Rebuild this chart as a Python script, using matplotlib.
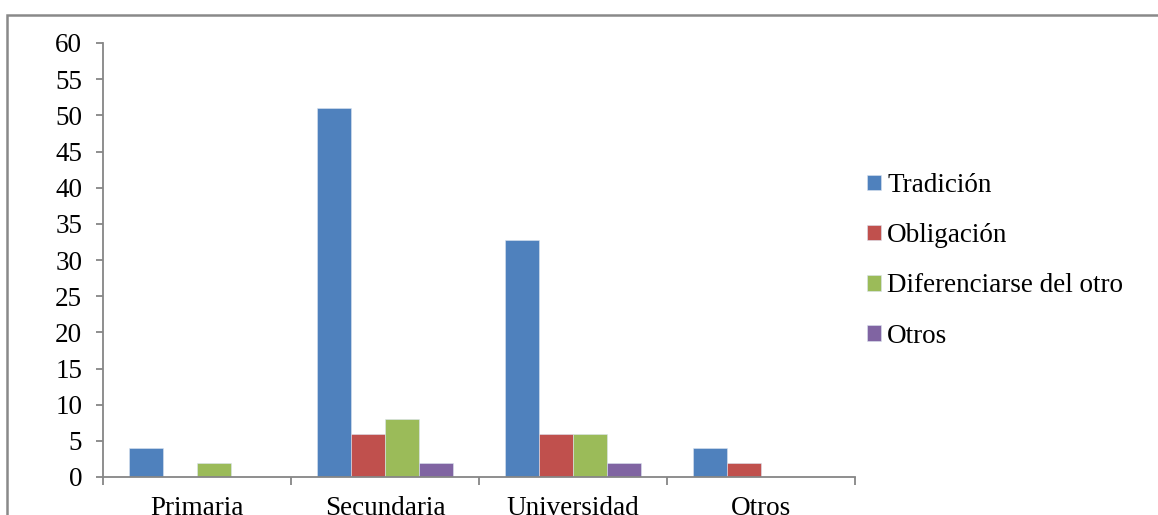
import matplotlib.pyplot as plt
import matplotlib.patches as patches
import numpy as np

plt.rcParams['font.family'] = ['Liberation Serif', 'DejaVu Serif']

categorias = ['Primaria', 'Secundaria', 'Universidad', 'Otros']
series = ['Tradición', 'Obligación', 'Diferenciarse del otro', 'Otros']
valores = {
    'Tradición': [4, 51, 32.7, 4],
    'Obligación': [0, 6, 6, 2],
    'Diferenciarse del otro': [2, 8, 6, 0],
    'Otros': [0, 2, 2, 0],
}
colores = ['#4F81BD', '#C0504D', '#9BBB59', '#8064A2']
grey = '#868686'
fs = 19.5

fig = plt.figure(figsize=(11.58, 5.15), dpi=100)
ax = fig.add_axes([103 / 1158, 1 - 477 / 515, 752 / 1158, 434 / 515])

# marco exterior del grafico
fig.patches.append(patches.Rectangle((7 / 1158, -0.1), 1.1, 1.1 - 15 / 515,
                                     transform=fig.transFigure, fill=False,
                                     edgecolor='#898989', linewidth=1.8))

x = np.arange(len(categorias))
w = 0.1808
for i, s in enumerate(series):
    ax.bar(x + (i - 1.5) * w, valores[s], width=w, color=colores[i],
           edgecolor='#dbe4f0', linewidth=0.4, label=s)

ax.set_xlim(-0.5, 3.5)
ax.set_ylim(0, 60)
ax.set_yticks(range(0, 61, 5))
ax.set_xticks(np.arange(-0.5, 4, 1))
ax.set_xticklabels([])
ax.set_xticks(x, minor=True)
ax.set_xticklabels(categorias, minor=True)

for s in ['top', 'right']:
    ax.spines[s].set_visible(False)
for s in ['left', 'bottom']:
    ax.spines[s].set_color(grey)
    ax.spines[s].set_linewidth(1.3)

ax.tick_params(axis='y', colors=grey, labelcolor='black', labelsize=fs,
               length=5, width=1.3, pad=10)
ax.tick_params(axis='x', which='major', colors=grey, length=6, width=1.3)
ax.tick_params(axis='x', which='minor', length=0, labelsize=fs, pad=14)

fig.legend(loc='upper left', bbox_to_anchor=(867 / 1158, 1 - 173 / 515),
           frameon=False, fontsize=fs, handlelength=0.52, handleheight=0.52,
           handletextpad=0.22, labelspacing=0.93, borderpad=0, borderaxespad=0)

fig.savefig('out.png', dpi=100)
